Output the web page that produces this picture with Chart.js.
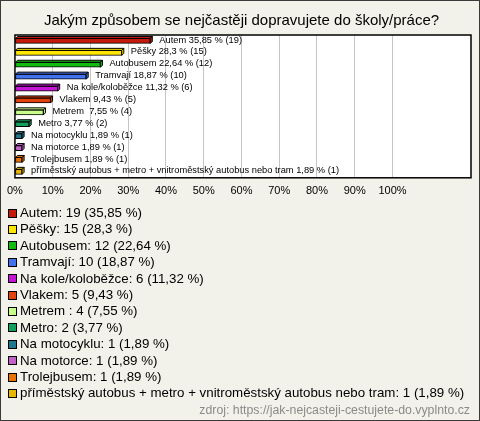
<!DOCTYPE html>
<html>
<head>
<meta charset="utf-8">
<script src="https://cdn.jsdelivr.net/npm/chart.js@4"></script>
<style>
  body { margin: 0; }
  #box {
    position: relative; width: 480px; height: 421px; box-sizing: border-box;
    border: 1px solid #3a3a3a; background: #f3f2ea;
    font-family: "Liberation Sans", Arial, sans-serif; overflow: hidden;
  }
  #wrap { position: absolute; left: -1px; top: -1px; width: 480px; height: 208px; }
  #legend { position: absolute; left: 7px; top: 204px; font-size: 13.3px; color: #000; }
  .row { height: 16.4px; line-height: 16.4px; display: flex; align-items: center; white-space: pre; }
  .sq { width: 7px; height: 7px; border: 1px solid #000; margin-right: 3px; }
  #src { position: absolute; right: 9px; top: 402px; font-size: 12.3px; color: #8a8a8a; }
</style>
</head>
<body>
<div id="box">
  <div id="wrap"><canvas id="chart"></canvas></div>
  <div id="legend"></div>
  <div id="src">zdroj: https://jak-nejcasteji-cestujete-do.vyplnto.cz</div>
</div>
<script>
var categories = ["Autem", "Pěšky", "Autobusem", "Tramvají", "Na kole/koloběžce", "Vlakem", "Metrem ",
    "Metro", "Na motocyklu", "Na motorce", "Trolejbusem",
    "příměstský autobus + metro + vnitroměstský autobus nebo tram"];
var counts = [19, 15, 12, 10, 6, 5, 4, 2, 1, 1, 1, 1];
var percents = [35.85, 28.3, 22.64, 18.87, 11.32, 9.43, 7.55, 3.77, 1.89, 1.89, 1.89, 1.89];
var colors = ['#c41a0c', '#ffe600', '#12bb12', '#4272ee', '#c614d6', '#e2420e', '#c8ff8a',
    '#12a05e', '#20788e', '#c262c8', '#e87206', '#e8b602'];
var tickLabels = ['0%', '10%', '20%', '30%', '40%', '50%', '60%', '70%', '80%', '90%', '100%'];

function czNum(v) { return String(v).replace('.', ','); }

// legend under the chart
var legend = document.getElementById('legend');
categories.forEach(function (c, i) {
    var row = document.createElement('div');
    row.className = 'row';
    var sq = document.createElement('span');
    sq.className = 'sq';
    sq.style.background = colors[i];
    row.appendChild(sq);
    row.appendChild(document.createTextNode(c + ': ' + counts[i] + ' (' + czNum(percents[i]) + ' %)'));
    legend.appendChild(row);
});

var DEPTH = 2;

var frame = {
    id: 'frame',
    beforeDraw: function (chart) {
        var a = chart.chartArea, ctx = chart.ctx;
        ctx.save();
        ctx.fillStyle = '#fff';
        ctx.fillRect(a.left, a.top, a.right - a.left, a.bottom - a.top);
        ctx.restore();
    },
    beforeDatasetsDraw: function (chart) {
        var a = chart.chartArea, ctx = chart.ctx;
        ctx.save();
        ctx.strokeStyle = '#000';
        ctx.lineWidth = 1.5;
        ctx.strokeRect(a.left, a.top, a.right - a.left, a.bottom - a.top);
        ctx.restore();
    },
    afterDatasetsDraw: function (chart) {
        var ctx = chart.ctx;
        var meta = chart.getDatasetMeta(0);
        ctx.save();
        meta.data.forEach(function (bar, i) {
            var top = bar.y - bar.height / 2, bottom = bar.y + bar.height / 2;
            ctx.lineWidth = 1;
            ctx.strokeStyle = '#000';
            ctx.fillStyle = colors[i];
            // top face
            ctx.beginPath();
            ctx.moveTo(bar.base, top);
            ctx.lineTo(bar.base + DEPTH, top - DEPTH);
            ctx.lineTo(bar.x + DEPTH, top - DEPTH);
            ctx.lineTo(bar.x, top);
            ctx.closePath();
            ctx.fill();
            ctx.stroke();
            // right face
            ctx.beginPath();
            ctx.moveTo(bar.x, top);
            ctx.lineTo(bar.x + DEPTH, top - DEPTH);
            ctx.lineTo(bar.x + DEPTH, bottom - DEPTH);
            ctx.lineTo(bar.x, bottom);
            ctx.closePath();
            ctx.fill();
            ctx.stroke();
            // value label
            ctx.fillStyle = '#000';
            ctx.font = '9.3px "Liberation Sans", Arial, sans-serif';
            ctx.textBaseline = 'middle';
            ctx.fillText(categories[i] + ' ' + czNum(percents[i]) + ' % (' + counts[i] + ')',
                bar.x + DEPTH + 7, bar.y - 1);
        });
        ctx.restore();
    }
};

var ctx = document.getElementById('chart').getContext('2d');
var chart = new Chart(ctx, {
    type: 'bar',
    data: {
        labels: categories,
        datasets: [{
            data: percents,
            backgroundColor: colors,
            borderColor: '#000',
            borderWidth: 1,
            borderSkipped: false,
            barThickness: 5
        }]
    },
    options: {
        indexAxis: 'y',
        responsive: true,
        maintainAspectRatio: false,
        animation: false,
        layout: { padding: { left: 12, right: 9, top: 0, bottom: 3 } },
        plugins: {
            legend: { display: false },
            tooltip: { enabled: false },
            title: {
                display: true,
                text: 'Jakým způsobem se nejčastěji dopravujete do školy/práce?',
                color: '#000',
                font: { family: '"Liberation Sans", Arial, sans-serif', size: 15, weight: 'normal' },
                padding: { top: 12, bottom: 5 }
            }
        },
        scales: {
            y: { display: false },
            x: {
                min: 0,
                max: 120.8,
                border: { display: false },
                grid: {
                    drawTicks: false,
                    color: function (c) {
                        var v = c.tick ? c.tick.value : 0;
                        return (v > 0 && v <= 100) ? '#c6c6c6' : 'rgba(0,0,0,0)';
                    }
                },
                ticks: {
                    stepSize: 10,
                    padding: 7,
                    color: '#000',
                    maxRotation: 0,
                    autoSkip: false,
                    font: { family: '"Liberation Sans", Arial, sans-serif', size: 11 },
                    callback: function (v) {
                        var k = Math.round(v / 10);
                        return (v % 10 === 0 && k < tickLabels.length) ? tickLabels[k] : '';
                    }
                }
            }
        }
    },
    plugins: [frame]
});
</script>
</body>
</html>
